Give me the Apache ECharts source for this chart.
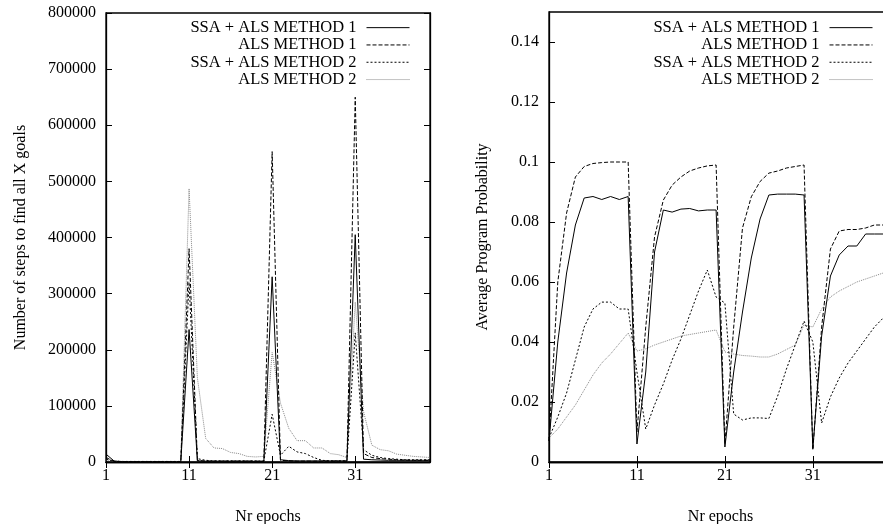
<!DOCTYPE html>
<html>
<head>
<meta charset="utf-8">
<script src="https://cdn.jsdelivr.net/npm/echarts@6/dist/echarts.min.js"></script>
<style>
  html, body { margin: 0; padding: 0; background: #fff; }
  #chart { width: 883px; height: 524px; }
</style>
</head>
<body>
<div id="chart"></div>
<script>
// epochs 1..40
const epochs = [1, 2, 3, 4, 5, 6, 7, 8, 9, 10, 11, 12, 13, 14, 15, 16, 17, 18, 19, 20,
  21, 22, 23, 24, 25, 26, 27, 28, 29, 30, 31, 32, 33, 34, 35, 36, 37, 38, 39, 40]
const seriesNames = ['SSA + ALS METHOD 1', 'ALS METHOD 1', 'SSA + ALS METHOD 2', 'ALS METHOD 2']

// left: number of steps to find all X goals
const stepsSsa1 = [14000, 1500, 600, 500, 500, 500, 500, 500, 500, 500,
  236000, 2000, 1500, 1500, 1500, 1500, 1500, 1500, 1200, 1000,
  330000, 4000, 2500, 2000, 2000, 2000, 2000, 2000, 2000, 2000,
  405000, 5000, 4000, 3500, 3000, 3000, 3000, 3000, 3000, 3000]
const stepsAls1 = [8000, 1000, 600, 500, 500, 500, 500, 500, 500, 500,
  380000, 3000, 1500, 1500, 1500, 1500, 1500, 1500, 1500, 1500,
  553000, 3000, 2000, 1500, 1500, 1500, 1500, 1500, 1500, 1500,
  650000, 15000, 8000, 6000, 5000, 4000, 3500, 3000, 3000, 3000]
const stepsSsa2 = [5000, 1500, 1000, 1000, 1000, 1000, 1000, 1000, 1000, 1000,
  320000, 6000, 3000, 2000, 2000, 2000, 2000, 2000, 2000, 2000,
  85000, 12000, 28000, 18000, 15000, 8000, 3000, 2000, 2000, 2000,
  230000, 22000, 12000, 8000, 6000, 5000, 4000, 4000, 4000, 4000]
const stepsAls2 = [4000, 2000, 1000, 1000, 1000, 1000, 1000, 1000, 1000, 1000,
  487000, 150000, 42000, 25000, 24000, 17000, 15000, 10000, 9000, 10000,
  195000, 105000, 60000, 38000, 38000, 25000, 25000, 15000, 13000, 8000,
  285000, 90000, 30000, 22000, 20000, 14000, 12000, 10000, 9000, 8000]

// right: average program probability
const probSsa1 = [0.007, 0.04, 0.063, 0.079, 0.088, 0.0885, 0.0875, 0.0885, 0.0875, 0.0885,
  0.006, 0.03, 0.07, 0.084, 0.0833, 0.0843, 0.0845, 0.0837, 0.084, 0.084,
  0.005, 0.03, 0.05, 0.068, 0.081, 0.089, 0.0893, 0.0893, 0.0893, 0.089,
  0.0045, 0.042, 0.062, 0.069, 0.072, 0.072, 0.076, 0.076, 0.076, 0.076]
const probAls1 = [0.007, 0.06, 0.083, 0.095, 0.0985, 0.0995, 0.0998, 0.1, 0.1, 0.1,
  0.01, 0.045, 0.075, 0.0873, 0.0923, 0.095, 0.097, 0.098, 0.0987, 0.099,
  0.006, 0.045, 0.078, 0.0884, 0.0935, 0.0963, 0.097, 0.098, 0.0985, 0.099,
  0.004, 0.045, 0.071, 0.077, 0.0775, 0.0775, 0.078, 0.079, 0.079, 0.0785]
const probSsa2 = [0.008, 0.015, 0.023, 0.034, 0.045, 0.051, 0.0533, 0.0533, 0.051, 0.051,
  0.03, 0.011, 0.019, 0.026, 0.034, 0.041, 0.049, 0.057, 0.064, 0.055,
  0.053, 0.016, 0.014, 0.0147, 0.0147, 0.0145, 0.022, 0.031, 0.039, 0.047,
  0.04, 0.013, 0.0217, 0.028, 0.033, 0.037, 0.041, 0.045, 0.048, 0.05]
const probAls2 = [0.008, 0.011, 0.015, 0.019, 0.024, 0.029, 0.033, 0.036, 0.0395, 0.043,
  0.037, 0.0377, 0.039, 0.04, 0.041, 0.042, 0.0425, 0.043, 0.0435, 0.044,
  0.0367, 0.036, 0.0355, 0.0353, 0.035, 0.035, 0.036, 0.0375, 0.039, 0.0457,
  0.045, 0.051, 0.055, 0.057, 0.0585, 0.06, 0.061, 0.062, 0.063, 0.064]

const lineStyles = [
  { color: '#000', width: 1, type: 'solid' },
  { color: '#000', width: 1, type: [4, 2] },
  { color: '#000', width: 1, type: [2, 2] },
  { color: '#888', width: 1, type: [1, 1] }
]
const font = 'Liberation Serif'
const every10 = (i) => i % 10 === 0
const axisLineStyle = { color: '#000', width: 1.3 }

function xAxes (gridIndex) {
  return [
    {
      gridIndex, type: 'category', data: epochs, boundaryGap: false,
      name: 'Nr epochs', nameLocation: 'middle', nameGap: 47,
      nameTextStyle: { fontFamily: font, fontSize: 16, color: '#000' },
      axisLine: { lineStyle: axisLineStyle },
      axisTick: { inside: true, length: 6, interval: every10, lineStyle: { color: '#000' } },
      axisLabel: { interval: every10, margin: 6, fontFamily: font, fontSize: 16, color: '#000' },
      splitLine: { show: false }
    },
    {
      gridIndex, type: 'category', data: epochs, boundaryGap: false, position: 'top',
      axisLine: { lineStyle: axisLineStyle },
      axisTick: { inside: true, length: 6, interval: every10, lineStyle: { color: '#000' } },
      axisLabel: { show: false },
      splitLine: { show: false }
    }
  ]
}

function yAxes (gridIndex, name, max, interval, nameGap, fmt, hideMax) {
  return [
    {
      gridIndex, type: 'value', min: 0, max, interval,
      name, nameLocation: 'middle', nameGap,
      nameTextStyle: { fontFamily: font, fontSize: 16, color: '#000' },
      axisLine: { show: true, lineStyle: axisLineStyle },
      axisTick: { show: true, inside: true, length: 6, lineStyle: { color: '#000' } },
      axisLabel: { margin: 10, fontFamily: font, fontSize: 16, color: '#000', formatter: fmt, showMaxLabel: !hideMax },
      splitLine: { show: false }
    },
    {
      gridIndex, type: 'value', min: 0, max, interval, position: 'right',
      axisLine: { show: true, lineStyle: axisLineStyle },
      axisTick: { show: true, inside: true, length: 6, lineStyle: { color: '#000' } },
      axisLabel: { show: false },
      splitLine: { show: false }
    }
  ]
}

function lines (values, xi, yi) {
  return values.map((v, k) => ({
    name: seriesNames[k],
    type: 'line',
    xAxisIndex: xi,
    yAxisIndex: yi,
    data: v,
    symbol: 'none',
    lineStyle: lineStyles[k],
    itemStyle: { color: lineStyles[k].color },
    z: 10 - k
  }))
}

function legend (right) {
  return {
    orient: 'vertical', align: 'right', right, top: 19, padding: 0,
    itemWidth: 43, itemHeight: 10, itemGap: 0,
    data: seriesNames,
    itemStyle: { opacity: 0 },
    lineStyle: { width: 1 },
    textStyle: { fontFamily: font, fontSize: 16.5, lineHeight: 17.3, color: '#000', padding: [0, 5, 0, 0] },
    selectedMode: false
  }
}

const chart = echarts.init(document.getElementById('chart'), null, { renderer: 'canvas' })
chart.setOption({
  animation: false,
  backgroundColor: '#fff',
  grid: [
    { left: 106, right: 453, top: 13, bottom: 62, show: true, borderColor: '#000', borderWidth: 1.3, containLabel: false, outerBoundsMode: 'none' },
    { left: 549, right: -9, top: 12, bottom: 62, show: true, borderColor: '#000', borderWidth: 1.3, containLabel: false, outerBoundsMode: 'none' }
  ],
  legend: [legend(473), legend(10)],
  xAxis: [...xAxes(0), ...xAxes(1)],
  yAxis: [
    ...yAxes(0, 'Number of steps to find all X goals', 800000, 100000, 77, (v) => String(v), false),
    ...yAxes(1, 'Average Program Probability', 0.15, 0.02, 58, (v) => String(+v.toFixed(2)), true)
  ],
  series: [
    ...lines([stepsSsa1, stepsAls1, stepsSsa2, stepsAls2], 0, 0),
    ...lines([probSsa1, probAls1, probSsa2, probAls2], 2, 2)
  ]
})
</script>
</body>
</html>
